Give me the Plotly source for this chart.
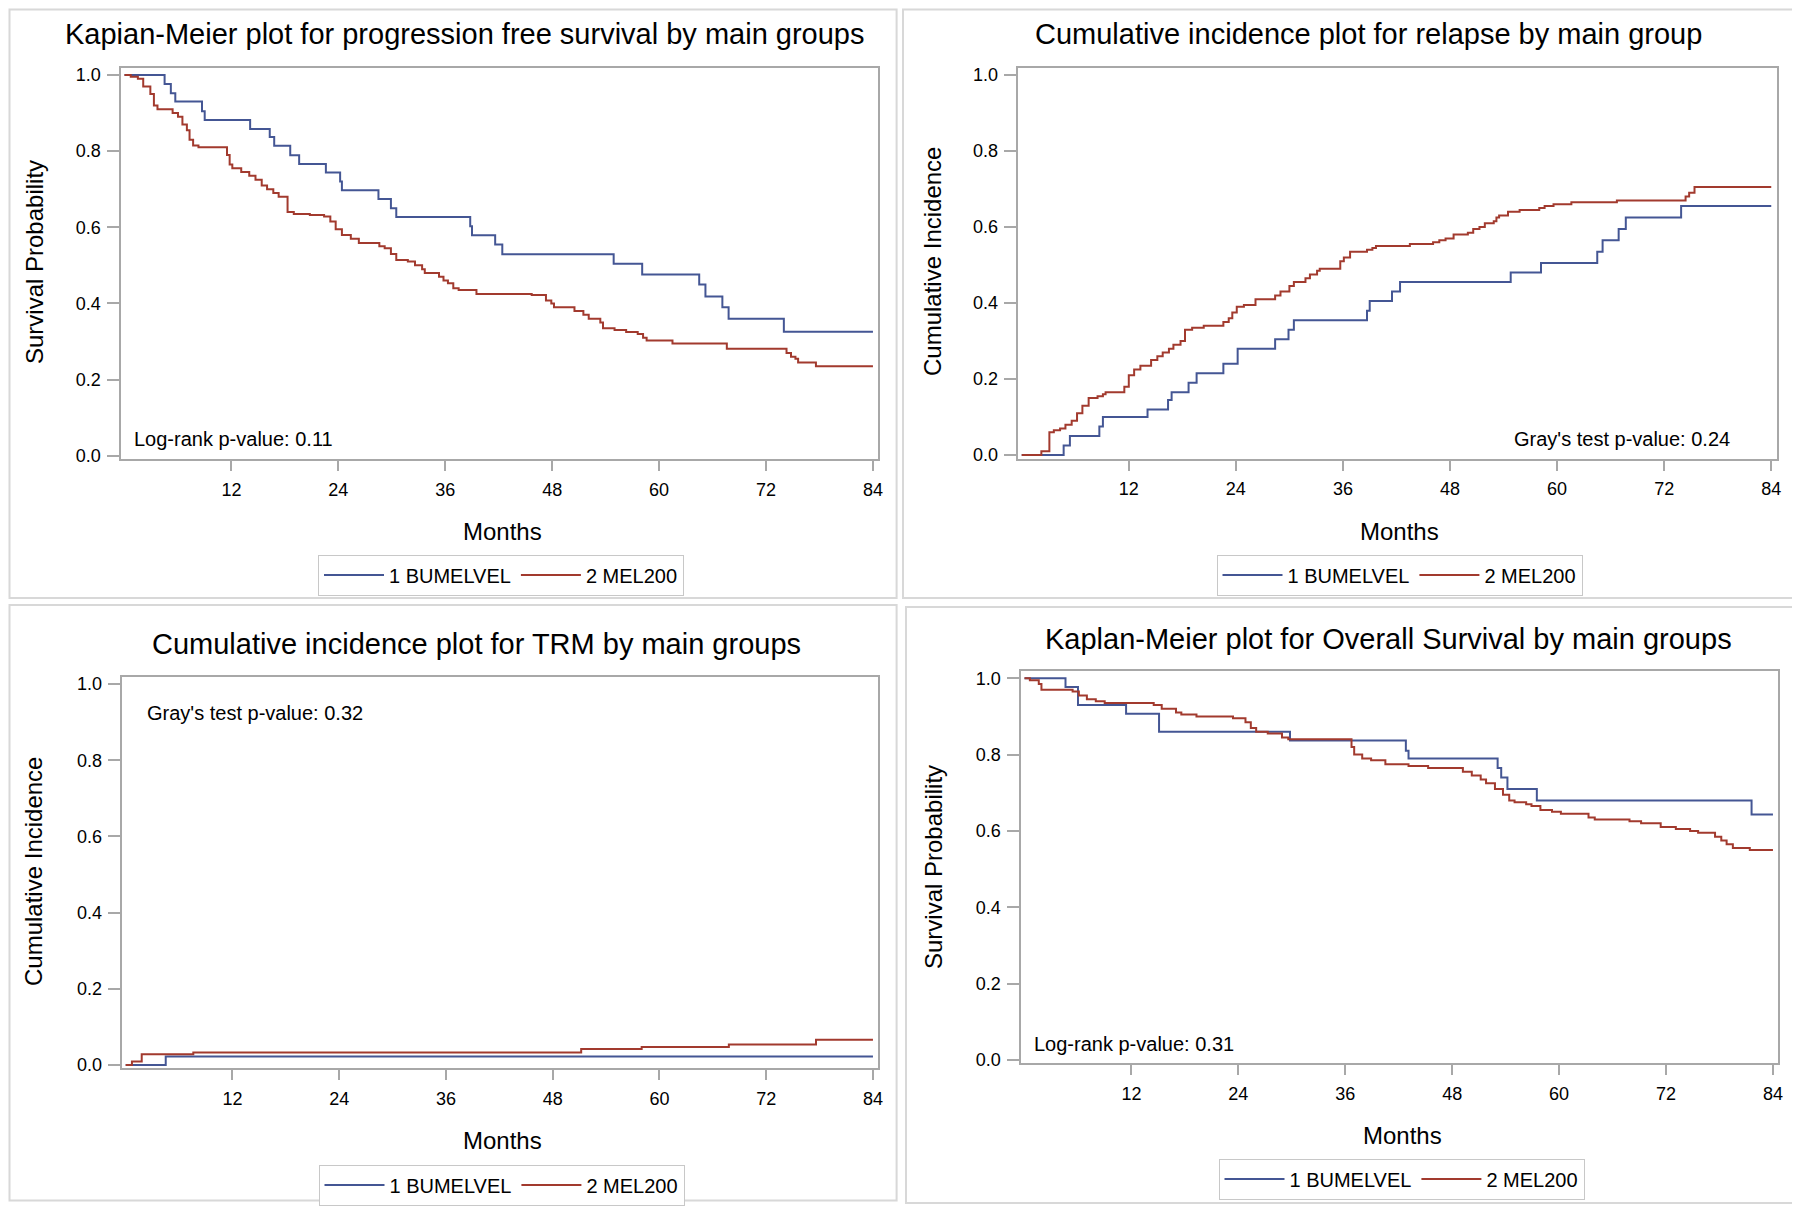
import plotly.graph_objects as go

# ---------------- data ----------------
groups = ["1 BUMELVEL", "2 MEL200"]
x_ticks = [12, 24, 36, 48, 60, 72, 84]
y_ticks = [0.0, 0.2, 0.4, 0.6, 0.8, 1.0]

# Progression free survival (KM)
pfs_bu_t = [0, 4.5, 5.2, 5.7, 8.7, 9.0, 14.1, 16.3, 16.8, 18.6, 19.6, 22.6, 24.2, 24.4, 28.5, 29.9, 30.5,
            38.8, 39.0, 41.6, 42.4, 54.9, 58.1, 64.5, 65.2, 67.1, 67.8, 74.0, 84]
pfs_bu_s = [1.0, 0.976, 0.952, 0.93, 0.905, 0.882, 0.858, 0.837, 0.814, 0.789, 0.766, 0.744, 0.72, 0.697,
            0.674, 0.65, 0.627, 0.603, 0.579, 0.555, 0.529, 0.504, 0.476, 0.45, 0.418, 0.39, 0.36, 0.326, 0.326]
pfs_me_t = [0, 0.7, 1.5, 2.1, 2.9, 3.3, 3.7, 5.4, 6.0, 6.5, 7.0, 7.3, 7.7, 8.3, 11.5, 11.8, 12.1, 13.1, 14.0,
            14.7, 15.4, 16.0, 16.7, 17.3, 18.3, 19.0, 20.8, 22.4, 23.1, 23.7, 24.4, 25.4, 26.3, 28.6, 29.2,
            29.9, 30.5, 31.8, 32.6, 33.4, 33.7, 35.3, 35.8, 36.3, 36.9, 37.5, 39.5, 45.7, 47.3, 47.9, 48.2,
            50.5, 51.5, 52.1, 53.4, 53.7, 55.0, 56.3, 57.6, 58.2, 58.6, 61.5, 67.6, 74.3, 74.8, 75.3, 75.6,
            77.6, 84]
pfs_me_s = [1.0, 0.995, 0.99, 0.97, 0.95, 0.92, 0.91, 0.90, 0.89, 0.87, 0.855, 0.83, 0.815, 0.81, 0.79, 0.765,
            0.755, 0.745, 0.735, 0.725, 0.71, 0.70, 0.69, 0.68, 0.64, 0.635, 0.632, 0.628, 0.615, 0.595, 0.58,
            0.57, 0.559, 0.55, 0.545, 0.53, 0.514, 0.51, 0.50, 0.49, 0.48, 0.47, 0.46, 0.453, 0.44, 0.435,
            0.425, 0.422, 0.408, 0.40, 0.39, 0.38, 0.37, 0.36, 0.35, 0.335, 0.33, 0.325, 0.32, 0.31, 0.303,
            0.295, 0.281, 0.27, 0.26, 0.255, 0.245, 0.235, 0.235]

# Relapse (cumulative incidence)
rel_bu_t = [0, 4.7, 5.4, 8.7, 9.1, 14.1, 16.4, 16.8, 18.7, 19.6, 22.6, 24.2, 28.4, 29.9, 30.5, 38.7, 39.0,
            41.5, 42.4, 54.8, 58.2, 64.5, 65.1, 66.9, 67.7, 73.9, 84]
rel_bu_s = [0, 0.025, 0.05, 0.075, 0.10, 0.12, 0.145, 0.165, 0.19, 0.215, 0.24, 0.28, 0.305, 0.33, 0.355,
            0.38, 0.405, 0.43, 0.455, 0.48, 0.505, 0.535, 0.565, 0.595, 0.625, 0.655, 0.655]
rel_me_t = [0, 2.2, 3.1, 3.6, 4.3, 4.9, 5.6, 6.2, 6.8, 7.5, 8.5, 9.1, 9.4, 11.5, 12.0, 12.6, 13.3, 14.5, 15.2,
            15.8, 16.5, 17.0, 17.8, 18.3, 19.1, 20.4, 22.6, 23.2, 23.6, 24.1, 24.9, 26.2, 28.4, 29.0, 30.0,
            30.5, 31.8, 32.3, 33.1, 33.4, 35.7, 36.1, 36.8, 38.7, 39.3, 39.7, 43.5, 46.1, 46.8, 47.5, 48.4,
            50.0, 50.6, 51.3, 51.9, 52.9, 53.2, 53.5, 54.5, 55.8, 58.0, 58.6, 59.6, 61.6, 66.7, 74.4, 74.8,
            75.4, 84]
rel_me_s = [0, 0.01, 0.06, 0.065, 0.07, 0.08, 0.09, 0.11, 0.13, 0.15, 0.155, 0.16, 0.165, 0.18, 0.21, 0.225,
            0.235, 0.25, 0.26, 0.27, 0.28, 0.29, 0.30, 0.33, 0.335, 0.34, 0.35, 0.36, 0.375, 0.39, 0.395, 0.41,
            0.42, 0.43, 0.445, 0.455, 0.465, 0.475, 0.485, 0.49, 0.51, 0.52, 0.535, 0.54, 0.545, 0.55, 0.555,
            0.56, 0.565, 0.57, 0.58, 0.585, 0.595, 0.60, 0.61, 0.615, 0.625, 0.63, 0.64, 0.645, 0.65, 0.655,
            0.66, 0.665, 0.67, 0.68, 0.69, 0.705, 0.705]

# TRM (cumulative incidence)
trm_bu_t = [0, 4.5, 84]
trm_bu_s = [0, 0.022, 0.022]
trm_me_t = [0, 0.7, 1.8, 7.6, 51.2, 58.0, 67.8, 77.6, 84]
trm_me_s = [0, 0.009, 0.028, 0.033, 0.042, 0.047, 0.054, 0.066, 0.066]

# Overall survival (KM)
os_bu_t = [0, 4.6, 6.0, 11.4, 15.1, 29.8, 42.8, 43.1, 53.1, 53.5, 54.2, 57.5, 81.6, 84]
os_bu_s = [1.0, 0.977, 0.93, 0.907, 0.86, 0.837, 0.81, 0.79, 0.765, 0.74, 0.71, 0.68, 0.643, 0.643]
os_me_t = [0, 0.6, 1.6, 1.9, 5.4, 6.1, 7.0, 8.0, 9.0, 14.5, 15.4, 17.0, 17.6, 19.3, 23.4, 24.8, 25.4, 26.0,
           27.3, 28.9, 29.6, 36.7, 37.0, 37.9, 38.9, 40.5, 43.1, 45.3, 49.2, 50.2, 51.2, 51.8, 52.8, 53.7,
           54.4, 55.0, 56.3, 56.9, 57.9, 59.2, 60.2, 63.3, 64.0, 67.9, 69.2, 71.4, 73.1, 74.7, 75.6, 77.5,
           78.2, 78.8, 79.5, 81.4, 84]
os_me_s = [1.0, 0.995, 0.985, 0.97, 0.965, 0.955, 0.945, 0.94, 0.935, 0.93, 0.92, 0.91, 0.905, 0.90, 0.895,
           0.885, 0.87, 0.86, 0.855, 0.845, 0.84, 0.82, 0.80, 0.79, 0.785, 0.775, 0.77, 0.765, 0.755, 0.745,
           0.735, 0.725, 0.71, 0.695, 0.68, 0.675, 0.67, 0.665, 0.655, 0.65, 0.645, 0.635, 0.63, 0.625, 0.62,
           0.61, 0.605, 0.60, 0.595, 0.585, 0.575, 0.565, 0.555, 0.55, 0.55]

titles = ["Kapian-Meier plot for progression free survival by main groups",
          "Cumulative incidence plot for relapse by main group",
          "Cumulative incidence plot for TRM by main groups",
          "Kaplan-Meier plot for Overall Survival by main groups"]
y_titles = ["Survival Probability", "Cumulative Incidence", "Cumulative Incidence", "Survival Probability"]
p_texts = ["Log-rank p-value: 0.11", "Gray's test p-value: 0.24",
           "Gray's test p-value: 0.32", "Log-rank p-value: 0.31"]

# ---------------- layout geometry (page pixels) ----------------
OFF = 8  # default page body margin
W, H = 1800, 1212
FONT = "Liberation Sans, Arial, sans-serif"
BLUE, RED = "#445694", "#A23A2E"

def px(x):
    return (x - OFF) / W

def py(y):
    return 1 - (y - OFF) / H

panels = [
    dict(series=[(pfs_bu_t, pfs_bu_s), (pfs_me_t, pfs_me_s)],
         plot=(120.5, 878.3, 68.1, 459.2), title=(464, 34), ytitle=(34, 262), xtitle=(502, 531),
         ptext=(132, 439, "left"), legend=(501, 575), box=(9.5, 9.5, 896.6, 598)),
    dict(series=[(rel_bu_t, rel_bu_s), (rel_me_t, rel_me_s)],
         plot=(1017.7, 1776.6, 68.1, 458.5), title=(1368, 34), ytitle=(932, 262), xtitle=(1399, 531),
         ptext=(1732, 439, "right"), legend=(1399.5, 575), box=(903, 9.5, 1795, 598)),
    dict(series=[(trm_bu_t, trm_bu_s), (trm_me_t, trm_me_s)],
         plot=(121.7, 878.3, 677.3, 1068.4), title=(476, 644), ytitle=(33, 872), xtitle=(502, 1140),
         ptext=(145, 713, "left"), legend=(501.5, 1185), box=(9.5, 605, 896.6, 1200.5)),
    dict(series=[(os_bu_t, os_bu_s), (os_me_t, os_me_s)],
         plot=(1020.5, 1778.3, 671.4, 1063.3), title=(1388, 639), ytitle=(933, 867), xtitle=(1402, 1135),
         ptext=(1032, 1044, "left"), legend=(1401.5, 1179), box=(906, 607, 1798, 1203)),
]

fig = go.Figure()
annotations = []
shapes = []
layout_axes = {}

for i, p in enumerate(panels):
    k = "" if i == 0 else str(i + 1)
    leg = "legend" + k
    for (t, s), name, color in zip(p["series"], groups, [BLUE, RED]):
        fig.add_trace(go.Scatter(
            x=t, y=s, mode="lines", name=name, line=dict(color=color, width=2, shape="hv"),
            xaxis="x" + k, yaxis="y" + k, legend=leg, showlegend=True))
    x0, x1, y0, y1 = p["plot"]
    common = dict(showgrid=False, zeroline=False, showline=True, linecolor="#a8a8a8", linewidth=2,
                  mirror=True, ticks="outside", tickcolor="#a8a8a8", tickwidth=2, automargin=False,
                  tickfont=dict(family=FONT, size=18, color="#000"))
    layout_axes["xaxis" + k] = dict(common, domain=[px(x0), px(x1)], range=[-0.45, 84.6],
                                    tickvals=x_ticks, ticklen=10, ticklabelstandoff=3,
                                    anchor="y" + k)
    layout_axes["yaxis" + k] = dict(common, domain=[py(y1), py(y0)], range=[-0.009, 1.018],
                                    tickvals=y_ticks, tickformat=".1f", ticklen=12,
                                    ticklabelstandoff=2, anchor="x" + k)
    tx, ty = p["title"]
    annotations.append(dict(text=titles[i], x=px(tx), y=py(ty), xref="paper", yref="paper",
                            xanchor="center", yanchor="middle", showarrow=False,
                            font=dict(family=FONT, size=29, color="#000")))
    yx, yy = p["ytitle"]
    annotations.append(dict(text=y_titles[i], x=px(yx), y=py(yy), xref="paper", yref="paper",
                            xanchor="center", yanchor="middle", showarrow=False, textangle=-90,
                            font=dict(family=FONT, size=24, color="#000")))
    mx, my = p["xtitle"]
    annotations.append(dict(text="Months", x=px(mx), y=py(my), xref="paper", yref="paper",
                            xanchor="center", yanchor="middle", showarrow=False,
                            font=dict(family=FONT, size=24, color="#000")))
    ax, ay, anc = p["ptext"]
    annotations.append(dict(text=p_texts[i], x=px(ax), y=py(ay), xref="paper", yref="paper",
                            xanchor=anc, yanchor="middle", showarrow=False,
                            font=dict(family=FONT, size=20, color="#000")))
    lx, ly = p["legend"]
    layout_axes[leg] = dict(orientation="h", x=px(lx), y=py(ly), xanchor="center", yanchor="middle",
                            bordercolor="#c8c8c8", borderwidth=1, bgcolor="white",
                            font=dict(family=FONT, size=20, color="#000"), itemwidth=60,
                            tracegroupgap=0)
    bx0, by0, bx1, by1 = p["box"]
    shapes.append(dict(type="rect", xref="paper", yref="paper", x0=px(bx0), x1=px(bx1),
                       y0=py(by1), y1=py(by0), line=dict(color="#d8d8d8", width=2)))

fig.update_layout(
    width=W, height=H, autosize=False,
    margin=dict(l=0, r=0, t=0, b=0),
    paper_bgcolor="white", plot_bgcolor="white",
    font=dict(family=FONT, color="#000"),
    annotations=annotations, shapes=shapes,
    **layout_axes,
)

fig.write_html("out.html")
